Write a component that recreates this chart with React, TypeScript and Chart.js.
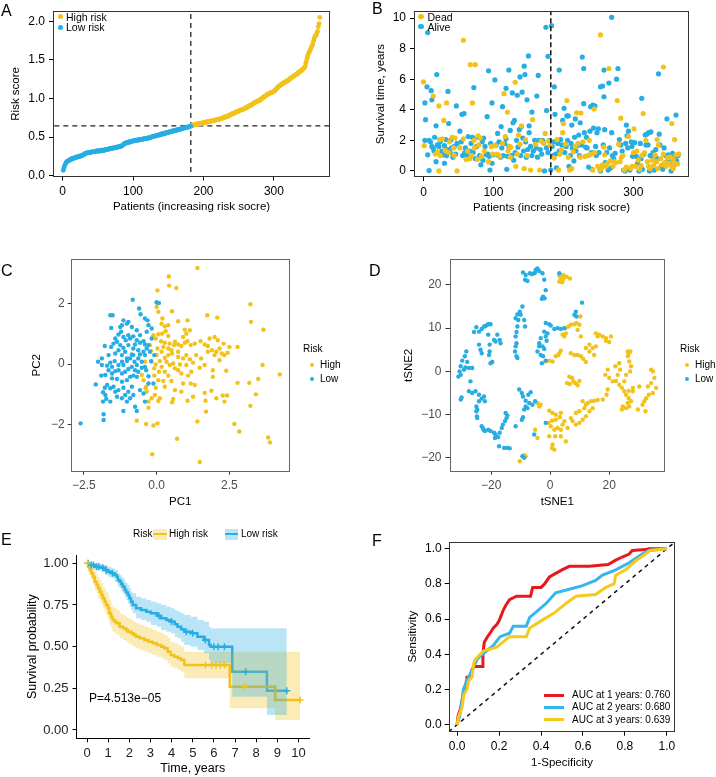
import React, { useEffect, useRef } from 'react';
import { Chart, registerables } from 'chart.js';
Chart.register(...registerables);

const FONT = "'Liberation Sans', Arial, Helvetica, sans-serif";
Chart.defaults.font.family = FONT;
Chart.defaults.color = '#000';

const YELLOW = '#F2C21B';
const BLUE = '#27ADE3';
const YELLOW_BAND = 'rgba(242,194,27,0.32)';
const BLUE_BAND = 'rgba(39,173,227,0.32)';
const RED = '#E8191C';
const ROC_BLUE = '#35B6EE';
const ROC_YELLOW = '#F7C81E';

// ---------- Panel A: sorted risk score ----------
const riskLow = [
  0.07,0.10,0.13,0.15,0.17,0.18,0.19,0.19,0.20,0.20,
  0.21,0.21,0.22,0.22,0.22,0.23,0.23,0.23,0.24,0.24,
  0.24,0.25,0.25,0.25,0.25,0.26,0.26,0.26,0.27,0.27,
  0.28,0.29,0.29,0.29,0.30,0.30,0.30,0.30,0.30,0.30,
  0.31,0.31,0.31,0.31,0.31,0.31,0.31,0.32,0.32,0.32,
  0.32,0.32,0.32,0.32,0.33,0.33,0.33,0.33,0.33,0.33,
  0.34,0.34,0.34,0.34,0.34,0.35,0.35,0.35,0.35,0.35,
  0.36,0.36,0.36,0.36,0.36,0.37,0.37,0.37,0.37,0.38,
  0.38,0.38,0.38,0.39,0.39,0.40,0.41,0.42,0.42,0.42,
  0.43,0.43,0.43,0.43,0.44,0.44,0.44,0.44,0.45,0.45,
  0.45,0.45,0.45,0.46,0.46,0.46,0.46,0.46,0.47,0.47,
  0.47,0.47,0.47,0.47,0.48,0.48,0.48,0.48,0.48,0.48,
  0.49,0.49,0.49,0.49,0.50,0.50,0.50,0.51,0.51,0.51,
  0.51,0.52,0.52,0.52,0.52,0.53,0.53,0.53,0.53,0.54,
  0.54,0.54,0.54,0.55,0.55,0.55,0.55,0.56,0.56,0.56,
  0.56,0.57,0.57,0.57,0.57,0.58,0.58,0.58,0.58,0.59,
  0.59,0.59,0.59,0.60,0.60,0.60,0.60,0.61,0.61,0.61,
  0.61,0.62,0.62,0.62,0.62,0.63,0.63,0.63,0.63,0.64,
  0.64,0.64,
];
const riskHigh = [
  0.65,0.65,0.65,0.66,0.66,0.66,0.66,0.67,
  0.67,0.67,0.67,0.67,0.68,0.68,0.68,0.68,0.68,0.69,
  0.69,0.69,0.69,0.69,0.70,0.70,0.70,0.70,0.70,0.71,
  0.71,0.71,0.71,0.71,0.72,0.72,0.72,0.72,0.73,0.73,
  0.73,0.73,0.73,0.74,0.74,0.74,0.75,0.75,0.75,0.76,
  0.76,0.76,0.77,0.77,0.77,0.78,0.78,0.79,0.79,0.80,
  0.80,0.81,0.81,0.81,0.82,0.82,0.83,0.83,0.83,0.84,
  0.84,0.85,0.85,0.85,0.86,0.86,0.86,0.87,0.87,0.88,
  0.88,0.89,0.89,0.90,0.90,0.91,0.91,0.92,0.92,0.93,
  0.94,0.94,0.95,0.95,0.96,0.96,0.97,0.97,0.97,0.98,
  0.99,0.99,1.00,1.01,1.01,1.02,1.03,1.03,1.04,1.05,
  1.05,1.06,1.06,1.07,1.07,1.08,1.08,1.08,1.09,1.09,
  1.10,1.11,1.12,1.13,1.14,1.15,1.16,1.16,1.17,1.18,
  1.19,1.19,1.20,1.20,1.21,1.21,1.22,1.22,1.23,1.23,
  1.24,1.25,1.26,1.26,1.27,1.28,1.28,1.29,1.30,1.30,
  1.31,1.31,1.32,1.33,1.33,1.34,1.35,1.36,1.36,1.37,
  1.38,1.39,1.40,1.41,1.45,1.48,1.52,1.55,1.58,1.60,
  1.62,1.64,1.66,1.68,1.70,1.74,1.77,1.80,1.81,1.82,
  1.85,1.87,1.93,1.97,2.05,
];
const riskCutoff = 0.645;
const patientCutoff = 182;
const patientTicks = [0, 100, 200, 300];
const riskTicks = [0, 0.5, 1.0, 1.5, 2.0];

// ---------- Panel B: survival time vs patient ----------
const aliveSurv: [number, number][] = [
  [2,4.45],[3,3.35],[6,9.05],[5,5.5],[11,5.25],[12,4.65],[18,2.95],[19,6.3],[2,2.0],[8,2.0],[6,1.05],[8,0.02],[12,1.6],[10,1.9],[15,1.3],[16,2.2],[18,0.6],[20,1.7],[22,1.6],[24,1.9],[14,1.5],
  [35,5.2],[47,4.25],[36,3.1],[26,1.3],[28,1.05],[30,1.65],[32,2.05],[34,1.4],[38,1.2],[40,1.5],[42,0.9],[44,1.6],[46,1.1],[48,1.8],[30,0.5],[39,2.0],[33,1.0],
  [52,2.6],[55,3.7],[58,3.75],[56,1.0],[54,1.9],[60,1.5],[62,1.0],[64,2.25],[66,1.3],[68,1.8],[70,2.2],[72,5.45],[71,1.2],[74,0.8],[59,1.2],[65,0.9],
  [91,3.55],[93,6.55],[98,4.45],[76,1.6],[78,2.2],[80,1.0],[82,0.4],[84,1.9],[86,2.15],[88,1.6],[90,1.05],[92,1.1],[94,0.95],[95,0.05],[96,1.8],[98,0.5],[100,1.05],[85,0.7],
  [102,5.95],[113,4.2],[118,5.4],[122,6.6],[111,2.9],[104,1.7],[106,2.45],[108,1.9],[110,0.9],[112,1.5],[114,1.0],[116,1.8],[118,2.1],[120,0.95],[122,1.6],[124,2.65],[107,1.0],[119,0.1],
  [127,5.1],[134,4.95],[138,6.15],[141,5.15],[144,6.85],[145,6.3],[148,4.65],[130,3.3],[128,3.15],[137,2.7],[140,2.9],[126,1.0],[129,0.7],[131,1.2],[133,2.0],[135,1.55],[139,1.0],[142,2.15],[143,1.3],[146,1.9],[147,0.9],[149,1.4],
  [150,7.52],[155,3.85],[151,2.95],[151,2.5],[162,4.9],[164,6.25],[153,1.6],[155,1.0],[157,1.3],[159,2.0],[161,1.5],[163,0.9],[165,2.0],[167,1.4],[169,1.1],[171,1.9],[173,0.0],[170,2.0],
  [175,9.4],[183,9.5],[178,7.5],[176,3.95],[187,5.5],[188,3.7],[194,6.6],[199,3.3],[176,1.5],[178,1.2],[180,2.0],[182,0.05],[184,1.6],[186,1.9],[189,1.1],[190,0.2],[192,1.8],[194,1.3],[196,2.05],[198,1.7],[185,1.0],
  [201,4.1],[205,3.6],[207,3.6],[212,3.0],[217,3.4],[224,3.15],[202,1.2],[204,1.6],[206,2.0],[208,0.3],[210,1.0],[211,1.8],[213,1.5],[215,0.65],[216,2.2],[218,1.3],[220,1.65],[222,2.35],[223,1.0],
  [227,7.45],[229,6.7],[229,4.4],[239,4.2],[242,4.3],[245,4.25],[230,2.5],[232,1.55],[234,1.5],[236,0.25],[238,2.6],[240,1.2],[241,0.1],[243,2.8],[246,1.6],[247,1.0],[248,2.5],[226,1.7],[233,2.2],
  [253,5.5],[256,5.55],[258,4.85],[258,6.6],[265,5.75],[269,10.05],[250,2.75],[259,2.7],[269,2.5],[251,1.2],[253,0.0],[255,0.3],[257,1.7],[260,0.55],[262,1.2],[264,0.05],[266,1.5],[268,0.2],[270,1.0],[272,0.8],[274,1.15],
  [276,6.0],[278,6.7],[290,3.0],[293,2.6],[282,1.7],[284,1.3],[286,0.05],[288,0.0],[289,1.8],[291,2.3],[292,1.5],[294,0.1],[295,0.05],[297,1.9],[298,1.6],[299,0.95],[280,2.05],
  [312,4.75],[319,2.4],[322,2.5],[302,1.85],[304,0.95],[306,0.5],[308,0.0],[310,1.8],[313,0.1],[315,1.1],[317,2.35],[318,1.7],[321,1.7],[323,0.0],[324,1.0],[311,0.8],
  [325,2.55],[337,2.4],[336,6.35],[348,3.4],[326,0.95],[328,1.2],[330,0.05],[332,1.4],[334,0.8],[338,1.7],[340,0.3],[342,0.1],[344,1.5],[346,1.0],[349,0.6],
  [361,3.65],[350,1.05],[352,0.6],[354,0.0],[356,1.15],[358,0.4],[360,0.9],[362,0.65],[364,1.0],
];
const deadSurv: [number, number][] = [
  [0,5.82],[14,4.9],[22,4.25],[1,1.65],[23,2.05],[22,0.0],[20,1.25],[17,1.1],[24,1.0],
  [33,4.45],[27,2.1],[29,3.3],[37,1.9],[41,2.2],[45,2.15],[44,1.0],[48,0.0],[43,1.5],[36,1.2],[31,1.35],
  [57,8.55],[67,6.95],[74,6.95],[70,4.45],[52,1.5],[57,2.1],[61,0.75],[63,1.3],[66,0.8],[69,1.0],[72,2.0],[73,1.5],
  [78,2.3],[81,2.15],[79,1.7],[83,0.95],[87,1.3],[93,0.6],[97,1.6],[99,1.1],[77,0.75],
  [115,5.05],[120,3.85],[105,1.1],[103,1.65],[109,0.95],[113,1.8],[117,2.25],[121,1.3],[123,1.6],[124,0.9],
  [131,5.8],[140,2.95],[125,1.55],[132,0.3],[136,2.35],[138,1.75],[144,0.15],[146,2.05],[148,1.0],[134,1.1],
  [156,3.35],[153,0.05],[160,1.75],[166,0.05],[168,1.95],[172,1.8],[174,2.45],
  [179,1.95],[181,1.7],[187,0.85],[193,0.05],[195,1.1],[197,1.4],[199,2.5],[191,2.05],
  [200,3.1],[205,4.6],[219,3.8],[203,1.75],[209,0.05],[212,0.15],[214,1.25],[217,1.6],[221,1.8],[224,0.9],[207,0.9],
  [225,3.78],[244,4.05],[228,1.9],[231,0.95],[235,1.0],[237,2.0],[240,1.1],[242,0.05],[245,1.2],[249,0.3],
  [253,8.9],[265,6.7],[252,0.05],[254,0.15],[256,0.4],[259,1.05],[261,0.3],[263,0.5],[267,0.65],[271,0.3],[273,0.6],[258,1.55],
  [277,4.6],[282,3.45],[275,0.55],[279,1.75],[281,0.6],[285,1.0],[287,0.05],[290,0.25],[293,2.25],[296,0.15],[298,0.3],[283,0.9],
  [314,3.75],[301,2.75],[303,0.3],[305,1.3],[307,0.7],[309,0.1],[311,0.35],[316,1.2],[320,0.6],[322,0.3],[324,0.15],[318,2.0],[312,1.0],[300,1.2],
  [343,6.8],[334,2.05],[327,0.7],[329,0.35],[331,1.05],[333,0.6],[335,0.15],[336,1.7],[339,0.8],[341,0.4],[343,1.1],[345,0.55],[347,0.3],[349,0.85],
  [355,3.1],[359,2.05],[351,0.5],[353,0.9],[355,0.3],[357,0.75],[359,0.5],[361,1.05],[363,0.45],[365,1.1],[357,0.15],
];
const survTicks = [0, 2, 4, 6, 8, 10];

// ---------- Panel C: PCA ----------
const pcaHigh: [number, number][] = [
  [1.40,3.18],[0.42,2.90],[0.43,2.60],[0.68,2.52],[0.03,2.44],[0.03,2.02],[0.00,1.89],[0.06,1.73],[0.53,1.75],[1.74,1.62],
  [2.08,1.54],[3.22,1.98],[3.24,1.40],[3.67,1.14],[1.06,1.45],[0.74,1.42],[0.17,1.34],[0.28,1.25],[0.97,1.14],[1.14,1.12],
  [1.99,0.90],[1.82,0.85],[2.10,0.79],[2.30,0.68],[2.50,0.57],[2.78,0.57],[3.64,-0.03],[4.23,-0.34],[3.49,-0.49],[3.18,-0.62],
  [2.78,-0.62],[2.39,-0.22],[1.93,-0.42],[3.41,-1.00],[3.22,-1.38],[2.42,-1.04],[2.27,-1.04],[2.33,-1.24],[2.05,-1.13],[1.88,-0.88],
  [1.65,-0.95],[1.68,-1.21],[1.70,-1.57],[1.40,-1.90],[1.06,-1.21],[1.25,-1.08],[0.57,-1.15],[0.53,-1.26],[0.06,-1.22],[0.11,-1.13],
  [-0.28,-1.24],[-0.38,-0.80],[-0.34,-0.91],[-0.03,-0.78],[-0.28,-1.44],[-0.36,-1.98],[-0.11,-2.03],[0.03,-1.96],[-0.68,-1.87],[0.70,-2.47],
  [-0.15,-2.98],[1.48,-3.24],[2.67,-1.98],[2.84,-2.23],[3.83,-2.43],[3.89,-2.59],
  [-0.11,0.96],[-0.03,0.85],[0.06,0.99],[0.19,1.01],[0.31,1.09],[0.40,0.93],[0.15,0.76],[0.28,0.71],[0.45,0.68],[0.60,0.63],
  [0.74,0.65],[0.85,0.60],[0.97,0.71],[1.06,0.76],[1.17,0.63],[1.31,0.68],[1.51,0.76],[1.65,0.65],[1.76,0.60],[1.90,0.46],
  [2.05,0.41],[2.16,0.52],[2.24,0.35],[2.44,0.38],[1.02,1.01],[0.91,0.90],[0.74,0.41],[0.53,0.35],[0.40,0.30],[0.28,0.21],
  [0.11,0.10],[-0.03,-0.01],[-0.08,-0.14],[0.08,-0.25],[0.28,-0.25],[0.45,-0.03],[0.63,-0.14],[0.80,-0.01],[0.91,0.19],[1.02,0.30],
  [1.14,0.16],[0.85,-0.31],[1.08,-0.38],[0.91,-0.64],[1.17,-0.64],[1.31,-0.69],[0.40,-0.38],[0.51,-0.56],[0.23,-0.56],[0.06,-0.53],
  [-0.08,-0.38],[-0.45,-0.53],[-0.51,-0.36],[-0.36,-0.75],[-0.17,0.08],[-0.40,0.08],[-0.19,0.44],[0.00,0.30],[0.57,0.02],[1.19,-0.25],
  [0.74,0.24],[0.17,0.41],[0.40,0.52],[0.63,0.74],[1.99,0.30],[2.33,0.30],[1.76,0.41],[1.53,0.19],[1.93,-0.20],[1.48,-0.12],
  [1.25,0.05],[-0.23,0.63],[0.03,0.52],[0.23,0.57],[0.51,0.46],[0.34,0.08],[0.17,-0.09],[0.74,-0.20],[1.02,-0.03],[1.36,0.30],
  [1.65,-0.03],[0.28,-0.75],[-0.06,-1.02],[-0.17,-1.13],[0.85,-0.91],[0.63,-0.86],[2.16,0.13],[0.40,1.29],[0.20,1.51],
];
const pcaLow: [number, number][] = [
  [-2.61,-1.96],[-1.82,-1.66],[-1.82,-1.85],[-2.09,-0.67],[-1.90,-0.38],[-1.84,-0.93],[-1.84,-1.24],[-1.78,-0.78],[-1.76,-1.02],[-1.73,-1.15],
  [-1.59,1.62],[-1.51,1.62],[-1.56,1.20],[-1.25,1.23],[-1.19,1.29],[-1.02,1.34],[-0.85,1.23],[-0.60,1.84],[-0.82,2.13],[-0.55,1.65],
  [-0.40,1.51],[-0.31,1.45],[0.00,2.05],[0.08,2.02],[-2.01,0.08],[-1.88,0.19],[-1.78,0.60],[-1.65,0.30],[-1.56,0.57],[-1.48,0.68],
  [-1.42,0.85],[-1.31,0.98],[-1.22,1.07],[-1.14,0.90],[-1.06,0.79],[-0.97,0.96],[-0.80,0.92],[-0.68,0.79],[-0.57,0.71],[-0.45,0.76],
  [-0.40,0.65],[-0.28,0.63],[-0.23,0.41],[-0.08,0.30],[-0.40,0.30],[-0.51,0.08],[-0.63,0.19],[-0.76,0.08],[-0.91,0.19],[-1.02,0.10],
  [-1.14,-0.03],[-1.31,-0.03],[-1.44,0.10],[-1.59,0.05],[-1.70,-0.05],[-1.65,-0.20],[-1.53,-0.31],[-1.42,-0.23],[-1.31,-0.20],[-1.19,-0.31],
  [-1.08,-0.25],[-0.97,-0.16],[-0.85,-0.09],[-0.74,-0.20],[-0.63,-0.25],[-0.51,-0.12],[-1.53,-0.47],[-1.36,-0.49],[-1.19,-0.58],[-1.02,-0.53],
  [-0.91,-0.42],[-0.80,-0.38],[-0.68,-0.42],[-1.70,-0.69],[-1.59,-0.80],[-1.48,-0.75],[-1.31,-0.86],[-1.14,-0.78],[-0.97,-0.91],[-0.85,-0.75],
  [-1.36,-1.08],[-1.19,-1.13],[-1.02,-1.24],[-0.91,-1.13],[-0.74,-1.41],[-0.68,-1.55],[-1.14,-1.55],[-0.57,-0.86],[-0.28,-0.40],[-0.36,-0.20],
  [-0.19,0.10],[-0.45,0.41],[-0.63,0.46],[-0.80,0.52],[-0.97,0.63],[-1.14,0.54],[-1.31,0.46],[-1.42,0.35],[-1.19,0.30],[-1.08,0.41],
  [-0.85,0.32],[-0.97,1.40],[-0.68,1.12],[-1.14,1.45],[-1.36,0.74],[-0.74,0.65],[-0.57,0.96],[-0.34,1.07],[-0.17,0.85],[-0.34,0.52],
  [-0.57,0.32],[-0.68,-0.03],[-0.40,-0.09],[-0.28,-0.64],[-0.45,-0.97],[-1.53,-0.09],[-1.76,-0.36],[-1.42,-0.91],[-1.59,-1.24],[-1.08,-1.02],
  [-0.80,-1.02],[-1.02,0.19],[-1.19,0.08],[-1.88,-0.03],[-0.91,0.85],[-1.25,0.63],[-0.80,0.30],[-0.40,-1.24],[-0.11,-0.64],[-0.17,1.18],
  [-0.28,1.29],
];

// ---------- Panel D: tSNE ----------
const tsneLow: [number, number][] = [
  [-9.2,22.9],[-8.3,22.3],[-8.5,21.2],[-7.7,20.9],[-6.2,22.5],[-5.4,22.7],[-4.9,23.5],[-4.3,23.8],[-3.7,23.2],[-2.6,22.7],
  [-2.0,21.2],[-1.5,18.8],[-2.4,17.3],[-2.8,16.8],[-1.9,16.9],[-5.1,22.9],[-6.9,22.7],[3.1,22.7],
  [-25.8,9.1],[-25.0,10.2],[-24.1,9.2],[-23.2,9.8],[-22.4,10.4],[-21.9,10.5],[-21.3,10.8],[-20.7,11.0],[-20.2,10.9],[-21.0,8.5],
  [-24.1,6.2],[-23.2,4.2],[-20.5,6.2],[-20.7,3.8],[-20.2,1.9],[-19.6,2.2],[-17.9,8.5],[-17.1,7.3],[-16.8,6.5],[-18.5,6.9],
  [-19.0,7.3],[-23.6,5.0],[-20.5,4.6],
  [-28.4,4.6],[-28.9,3.5],[-29.8,2.5],[-30.3,1.2],[-30.7,0.0],[-31.1,-1.2],[-30.3,-0.8],[-29.2,0.4],[-28.7,0.9],[-27.5,0.8],
  [-26.4,0.8],[-27.0,-2.3],[-27.5,-4.6],[-26.4,-5.0],[-30.0,-6.0],[-30.3,-6.5],[-28.1,2.2],
  [-25.3,-4.6],[-24.1,-5.4],[-23.2,-6.3],[-22.4,-5.8],[-22.1,-6.9],[-24.1,-6.9],[-25.0,-8.1],[-25.0,-9.2],[-24.8,-10.4],[-24.7,-10.8],
  [-23.2,-12.7],[-22.8,-13.1],[-22.1,-13.8],[-21.0,-13.5],[-20.2,-13.8],[-19.0,-14.2],[-18.5,-14.6],[-17.6,-15.2],[-17.1,-14.2],[-16.4,-13.1],
  [-16.0,-12.3],[-15.3,-11.5],[-14.8,-10.8],[-14.5,-10.2],[-15.1,-9.6],[-17.3,-17.3],[-15.6,-17.7],[-14.5,-17.7],[-13.7,-17.8],[-11.7,-12.7],
  [-9.4,-19.6],[-8.8,-20.0],[-24.7,-8.8],[-22.6,-13.5],[-18.7,-15.4],
  [-11.7,12.3],[-11.1,13.2],[-10.3,13.8],[-9.4,15.0],[-11.1,10.4],[-11.4,9.1],[-11.7,8.1],[-11.4,6.5],[-11.7,5.8],[-11.9,4.6],
  [-11.4,3.5],[-11.1,3.1],[-10.0,13.1],[-8.8,11.9],[-8.5,10.4],[-10.8,11.9],
  [-1.5,11.2],[-0.3,10.9],[0.2,10.6],[-2.0,9.2],[-0.9,8.8],[-1.5,8.1],[-3.7,6.5],[-2.6,5.8],[-2.0,5.2],[-3.7,5.8],
  [-4.3,4.6],[-3.2,3.8],[-2.4,3.5],[-1.5,2.5],[-2.8,1.9],[1.4,9.8],[2.5,10.0],[3.6,9.8],[4.8,10.0],[-1.2,7.1],[-3.2,7.7],
  [10.8,15.9],[8.7,13.8],[8.2,13.1],[8.9,12.7],
  [-10.5,-4.2],[-9.6,-5.0],[-9.2,-5.8],[-8.3,-6.8],[-7.4,-5.4],[-6.6,-4.8],[-7.1,-7.3],[-8.3,-8.1],[-8.8,-8.8],[-9.2,-10.6],
  [-9.6,-11.2],[-5.1,-6.9],[-6.0,-7.7],[-1.5,-11.9],[-5.4,-14.6],[-7.7,-8.5],
];
const tsneHigh: [number, number][] = [
  [3.1,22.2],[3.6,21.4],[4.2,20.9],[3.6,21.9],[4.8,21.7],[5.5,21.9],[6.7,21.5],[3.1,20.8],[4.0,20.6],[4.4,22.3],
  [5.1,10.0],[6.2,10.4],[7.0,10.8],[8.2,10.9],[8.9,11.2],[9.9,10.8],[10.2,12.7],[9.3,9.6],[10.4,8.1],[4.2,8.5],[4.8,8.1],[5.3,8.8],
  [15.5,8.8],[16.6,8.5],[17.8,8.1],[18.9,7.7],[20.6,8.1],[20.0,6.8],[18.9,7.1],[16.1,8.1],
  [7.0,4.2],[8.2,3.8],[9.3,3.8],[10.4,3.5],[11.2,2.9],[12.1,2.2],[13.3,4.6],[14.4,5.4],[15.5,5.8],[14.9,3.8],[13.3,6.2],[12.1,5.4],
  [-1.5,2.3],[-0.3,2.5],[0.8,2.3],[1.9,3.5],[3.1,4.2],[3.6,4.8],[2.8,3.8],
  [6.5,-1.2],[7.4,-1.5],[7.9,-2.3],[8.5,-2.7],[9.3,-3.2],[9.9,-2.2],[6.7,-2.9],[5.7,-2.7],
  [26.3,4.6],[27.2,4.6],[26.6,4.0],[26.3,3.5],[26.8,2.3],[27.4,1.2],[27.1,0.0],[25.7,-0.8],[23.4,1.9],[22.1,1.2],
  [19.5,0.4],[18.7,-0.8],[20.0,-1.5],[21.2,-2.3],[22.3,-2.2],[23.4,-3.1],[24.3,-3.8],[25.1,-4.6],[25.7,-5.4],[26.6,-6.2],
  [27.4,-6.9],[26.3,-7.3],[24.6,-8.1],[25.7,-8.5],[24.3,-8.8],[26.8,-8.1],[29.7,-8.8],[32.3,-9.2],[28.0,-3.8],[26.6,-4.5],
  [28.0,-4.6],[34.2,0.4],[34.8,0.0],[35.3,-1.5],[34.2,-2.7],[35.9,-3.8],[34.8,-5.0],[33.4,-5.4],[32.5,-6.2],[31.9,-6.9],
  [33.1,-3.5],[30.2,-3.5],[19.5,-4.2],[19.1,-5.4],[23.7,0.4],[22.9,-0.8],[25.1,-2.3],[31.3,-7.7],
  [-4.3,-7.3],[-3.2,-7.7],[-0.3,-9.1],[0.8,-9.6],[1.9,-10.0],[3.6,-9.6],[3.3,-10.6],[1.9,-11.2],[0.6,-11.4],[-0.6,-11.9],
  [0.2,-12.7],[1.4,-13.5],[2.5,-13.1],[3.6,-13.5],[1.7,-15.0],[3.6,-15.0],[5.3,-16.2],[-0.3,-15.0],[0.8,-16.9],[0.6,-17.7],
  [1.4,-18.1],[-5.1,-13.5],[-4.3,-15.4],[7.6,-11.5],[8.7,-12.3],[9.9,-11.9],[11.0,-11.2],[12.1,-10.4],[13.3,-9.2],[14.4,-8.5],
  [11.6,-8.5],[12.1,-7.7],[12.7,-7.3],[13.8,-6.9],[14.9,-6.8],[16.1,-6.6],[17.8,-6.5],[11.0,-6.9],[9.9,-9.2],[8.7,-9.6],
  [7.0,-10.8],[-3.7,-8.1],[-8.8,-19.4],[-8.3,-19.6],[-10.3,-20.8],[4.8,-11.5],[5.9,-13.1],[4.2,-12.3],
];

// ---------- Panel E: Kaplan-Meier ----------
const kmHighTime = [0,0.05,0.12,0.2,0.28,0.36,0.45,0.52,0.6,0.68,0.75,0.83,0.9,0.99,1.05,1.14,1.2,1.3,1.4,1.54,1.7,1.85,1.93,2.1,2.2,2.32,2.5,2.71,2.9,3.1,3.3,3.5,3.65,3.81,3.95,4.12,4.3,4.44,4.6,6.75,8.9,10.08];
const kmHighSurv = [1.0,0.98,0.96,0.94,0.92,0.89,0.87,0.85,0.83,0.81,0.79,0.77,0.75,0.73,0.70,0.68,0.66,0.65,0.64,0.62,0.61,0.60,0.59,0.58,0.57,0.56,0.55,0.54,0.53,0.52,0.51,0.50,0.49,0.47,0.45,0.44,0.43,0.42,0.39,0.26,0.18,0.18];
const kmHighUpper = [1.0,1.0,0.99,0.98,0.97,0.95,0.93,0.92,0.90,0.88,0.86,0.85,0.83,0.81,0.78,0.76,0.74,0.73,0.72,0.70,0.69,0.68,0.67,0.66,0.65,0.64,0.63,0.62,0.61,0.60,0.59,0.58,0.57,0.55,0.53,0.52,0.51,0.50,0.47,0.47,0.47,0.47];
const kmHighLower = [1.0,0.96,0.93,0.90,0.87,0.84,0.82,0.79,0.77,0.75,0.73,0.71,0.69,0.66,0.63,0.61,0.59,0.58,0.57,0.55,0.54,0.53,0.52,0.51,0.50,0.49,0.48,0.47,0.46,0.45,0.44,0.43,0.42,0.40,0.38,0.37,0.36,0.35,0.31,0.13,0.06,0.06];
const kmLowTime = [0,0.15,0.36,0.67,0.85,0.99,1.15,1.3,1.4,1.46,1.55,1.62,1.69,1.78,1.85,1.93,2.0,2.08,2.16,2.32,2.55,2.8,3.02,3.3,3.5,3.75,3.97,4.15,4.28,4.45,4.6,4.9,5.22,5.53,5.77,5.85,6.87,8.51,9.45];
const kmLowSurv = [1.0,0.99,0.98,0.974,0.96,0.95,0.94,0.93,0.92,0.90,0.89,0.875,0.86,0.84,0.825,0.81,0.79,0.77,0.75,0.73,0.72,0.71,0.70,0.685,0.67,0.66,0.65,0.635,0.62,0.605,0.59,0.58,0.56,0.54,0.51,0.50,0.35,0.236,0.236];
const kmLowUpper = [1.0,1.0,1.0,0.99,0.99,0.98,0.97,0.96,0.96,0.94,0.93,0.92,0.91,0.89,0.88,0.87,0.85,0.83,0.82,0.80,0.79,0.78,0.77,0.76,0.75,0.74,0.73,0.72,0.71,0.70,0.69,0.68,0.66,0.65,0.62,0.61,0.61,0.61,0.61];
const kmLowLower = [1.0,0.98,0.96,0.95,0.93,0.92,0.91,0.89,0.88,0.86,0.85,0.83,0.82,0.80,0.78,0.76,0.74,0.72,0.70,0.67,0.66,0.65,0.63,0.62,0.60,0.59,0.58,0.56,0.55,0.53,0.51,0.50,0.48,0.46,0.42,0.40,0.20,0.09,0.09];
const censorHigh: [number, number][] = [[0.02,1.0],[5.6,0.39],[5.9,0.39],[6.1,0.39],[6.3,0.39],[6.5,0.39],[7.45,0.26],[10.08,0.18]];
const censorLow: [number, number][] = [[0.05,1.0],[0.2,0.99],[0.3,0.99],[0.45,0.98],[0.55,0.98],[0.75,0.974],[0.9,0.96],[1.2,0.94],[3.4,0.685],[4.0,0.65],[4.7,0.59],[5.0,0.58],[5.6,0.54],[6.0,0.50],[6.2,0.50],[6.5,0.50],[7.5,0.35],[9.45,0.236]];
const timeTicks = [0,1,2,3,4,5,6,7,8,9,10];
const probTicks = [0, 0.25, 0.5, 0.75, 1.0];
const pValueText = 'P=4.513e\u221205';

// ---------- Panel F: ROC ----------
const roc1Fpr = [0,0.005,0.016,0.024,0.03,0.04,0.044,0.047,0.063,0.07,0.08,0.12,0.123,0.13,0.145,0.157,0.173,0.19,0.20,0.21,0.22,0.233,0.25,0.283,0.35,0.36,0.40,0.417,0.44,0.47,0.50,0.535,0.63,0.72,0.756,0.787,0.82,0.835,0.9,0.913,1];
const roc1Tpr = [0,0.05,0.09,0.14,0.18,0.20,0.245,0.27,0.27,0.31,0.33,0.33,0.41,0.47,0.50,0.52,0.55,0.57,0.59,0.62,0.65,0.68,0.71,0.73,0.73,0.78,0.78,0.80,0.84,0.86,0.88,0.90,0.90,0.91,0.935,0.953,0.97,0.99,0.995,1,1];
const roc2Fpr = [0,0.01,0.016,0.024,0.03,0.047,0.063,0.079,0.095,0.11,0.142,0.173,0.205,0.25,0.268,0.33,0.346,0.386,0.425,0.47,0.535,0.598,0.66,0.693,0.756,0.82,0.882,0.913,1];
const roc2Tpr = [0,0.04,0.07,0.14,0.20,0.25,0.29,0.33,0.37,0.39,0.42,0.45,0.50,0.52,0.56,0.56,0.61,0.65,0.69,0.75,0.77,0.79,0.82,0.85,0.88,0.92,0.97,0.99,1];
const roc3Fpr = [0,0.008,0.024,0.032,0.047,0.055,0.071,0.079,0.087,0.102,0.126,0.189,0.25,0.33,0.346,0.40,0.457,0.52,0.567,0.66,0.709,0.748,0.756,0.803,0.85,0.898,0.92,1];
const roc3Tpr = [0,0.05,0.10,0.17,0.20,0.25,0.27,0.35,0.37,0.39,0.42,0.44,0.50,0.50,0.55,0.59,0.63,0.69,0.73,0.74,0.78,0.80,0.85,0.88,0.93,0.97,0.99,1];
const rocLabels = ['AUC at 1 years: 0.760', 'AUC at 2 years: 0.680', 'AUC at 3 years: 0.639'];
const unitTicks = [0, 0.2, 0.4, 0.6, 0.8, 1.0];

// ---------- helpers ----------
const pairs = (arr: [number, number][]) => arr.map(([x, y]) => ({ x, y }));
const zip = (xs: number[], ys: number[]) => xs.map((x, i) => ({ x, y: ys[i] }));
const minus = (s: string) => s.replace('-', '\u2212');

const boxPlugin = {
  id: 'box',
  afterDatasetsDraw(chart: any, _args: any, opts: any) {
    if (!opts || !opts.color) return;
    const { ctx, chartArea: a } = chart;
    ctx.save();
    ctx.strokeStyle = opts.color;
    ctx.lineWidth = 1;
    const l = Math.round(a.left) + 0.5, t = Math.round(a.top) + 0.5;
    const r = Math.round(a.right) - 0.5, b = Math.round(a.bottom) - 0.5;
    ctx.strokeRect(l, t, r - l, b - t);
    ctx.restore();
  },
};

function axis(o: any) {
  return {
    type: 'linear',
    min: o.min,
    max: o.max,
    afterBuildTicks: (s: any) => { s.ticks = o.ticks.map((v: number) => ({ value: v })); },
    afterFit: (s: any) => { if (s.isHorizontal()) s.height = o.size; else s.width = o.size; },
    grid: { display: true, drawOnChartArea: false, drawTicks: true, tickLength: o.tickLen ?? 4, color: o.tickColor ?? '#000', lineWidth: 1 },
    border: { display: !!o.border, color: '#000', width: 1 },
    ticks: { autoSkip: false, maxRotation: 0, padding: o.pad ?? 4, color: o.labelColor ?? '#000', font: { size: o.font ?? 12 }, callback: o.fmt },
    title: { display: true, text: o.title, color: '#000', font: { size: o.titleFont ?? 11.5 }, padding: { top: o.tp ?? 0, bottom: o.tp ?? 0 } },
  };
}

function baseOptions(pad: any, x: any, y: any, box: string | null) {
  return {
    responsive: false,
    animation: false,
    events: [],
    layout: { padding: pad },
    plugins: { legend: { display: false }, tooltip: { enabled: false }, box: { color: box } },
    scales: { x, y },
  };
}

function Panel({ left, top, width, height, build }: any) {
  const ref = useRef<HTMLCanvasElement>(null);
  useEffect(() => {
    const chart = new Chart(ref.current as HTMLCanvasElement, build());
    return () => chart.destroy();
  }, []);
  return <canvas ref={ref} width={width} height={height} style={{ position: 'absolute', left, top, width, height }} />;
}

const T = ({ x, y, size = 11, children, color = '#000' }: any) => (
  <div style={{ position: 'absolute', left: x, top: y, transform: 'translateY(-50%)', fontSize: size, fontFamily: FONT, lineHeight: 1, whiteSpace: 'nowrap', color }}>{children}</div>
);
const Dot = ({ x, y, r, color }: any) => (
  <div style={{ position: 'absolute', left: x - r, top: y - r, width: r * 2, height: r * 2, borderRadius: '50%', background: color }} />
);
const LineKey = ({ x, y, w, color, h = 3 }: any) => (
  <div style={{ position: 'absolute', left: x, top: y - h / 2, width: w, height: h, background: color }} />
);

// ---------- chart builders ----------
const buildA = () => ({
  type: 'scatter',
  plugins: [boxPlugin],
  data: {
    datasets: [
      { data: [{ x: patientCutoff, y: -1 }, { x: patientCutoff, y: 3 }], showLine: true, borderColor: '#222', borderWidth: 1.3, borderDash: [5, 4], pointRadius: 0, order: 3 },
      { data: [{ x: -50, y: riskCutoff }, { x: 450, y: riskCutoff }], showLine: true, borderColor: '#222', borderWidth: 1.3, borderDash: [5, 4], pointRadius: 0, order: 3 },
      { data: riskLow.map((v, i) => ({ x: i + 1, y: v })), backgroundColor: BLUE, pointRadius: 2.4, pointBorderWidth: 0, order: 1 },
      { data: riskHigh.map((v, i) => ({ x: riskLow.length + 1 + i, y: v })), backgroundColor: YELLOW, pointRadius: 2.4, pointBorderWidth: 0, order: 1 },
    ],
  },
  options: baseOptions(
    { top: 8, right: 26, left: 0, bottom: 0 },
    axis({ min: -13.56, max: 379.56, ticks: patientTicks, size: 38.5, pad: 4, title: 'Patients (increasing risk socre)', tp: 1.2, fmt: (v: number) => String(v) }),
    axis({ min: -0.01, max: 2.13, ticks: riskTicks, size: 53, pad: 4, title: 'Risk score', tp: 9.2, fmt: (v: number) => v.toFixed(1) }),
    '#333'
  ),
});

const buildB = () => ({
  type: 'scatter',
  plugins: [boxPlugin],
  data: {
    datasets: [
      { data: [{ x: patientCutoff, y: -5 }, { x: patientCutoff, y: 20 }], showLine: true, borderColor: '#111', borderWidth: 1.5, borderDash: [5, 3], pointRadius: 0, order: 0 },
      { data: pairs(aliveSurv), backgroundColor: BLUE, pointRadius: 2.6, pointBorderWidth: 0, order: 2 },
      { data: pairs(deadSurv), backgroundColor: YELLOW, pointRadius: 2.6, pointBorderWidth: 0, order: 1 },
    ],
  },
  options: baseOptions(
    { top: 7.5, right: 27, left: 0, bottom: 0 },
    axis({ min: -13.56, max: 379.56, ticks: patientTicks, size: 38, pad: 4, title: 'Patients (increasing risk socre)', tp: 0.4, fmt: (v: number) => String(v) }),
    axis({ min: -0.40, max: 10.45, ticks: survTicks, size: 58, pad: 4, title: 'Survival time, years', tp: 18.2, fmt: (v: number) => String(v) }),
    '#333'
  ),
});

const ggTickColor = '#333';
const ggLabelColor = '#4D4D4D';

const buildC = () => ({
  type: 'scatter',
  plugins: [boxPlugin],
  data: {
    datasets: [
      { data: pairs(pcaLow), backgroundColor: BLUE, pointRadius: 2.2, pointBorderWidth: 0 },
      { data: pairs(pcaHigh), backgroundColor: YELLOW, pointRadius: 2.2, pointBorderWidth: 0 },
    ],
  },
  options: baseOptions(
    { top: 44, right: 66.3, left: 0, bottom: 0 },
    axis({ min: -2.95, max: 4.57, ticks: [-2.5, 0, 2.5], size: 38.3, tickLen: 3, pad: 4, tickColor: ggTickColor, labelColor: ggLabelColor, title: 'PC1', tp: 1.2, fmt: (v: number) => minus(v.toFixed(1)) }),
    axis({ min: -3.56, max: 3.48, ticks: [-2, 0, 2], size: 70.7, tickLen: 3, pad: 3, tickColor: ggTickColor, labelColor: ggLabelColor, title: 'PC2', tp: 30.2, fmt: (v: number) => minus(String(v)) }),
    '#666'
  ),
});

const buildD = () => ({
  type: 'scatter',
  plugins: [boxPlugin],
  data: {
    datasets: [
      { data: pairs(tsneLow), backgroundColor: BLUE, pointRadius: 2.2, pointBorderWidth: 0 },
      { data: pairs(tsneHigh), backgroundColor: YELLOW, pointRadius: 2.2, pointBorderWidth: 0 },
    ],
  },
  options: baseOptions(
    { top: 44, right: 51, left: 0, bottom: 0 },
    axis({ min: -34.1, max: 38.9, ticks: [-20, 0, 20], size: 38.3, tickLen: 3, pad: 4, tickColor: ggTickColor, labelColor: ggLabelColor, title: 'tSNE1', tp: 1.2, fmt: (v: number) => minus(String(v)) }),
    axis({ min: -23.2, max: 26.0, ticks: [-20, -10, 0, 10, 20], size: 93.5, tickLen: 4, pad: 4, tickColor: ggTickColor, labelColor: ggLabelColor, title: 'tSNE2', tp: 46.2, fmt: (v: number) => minus(String(v)) }),
    '#666'
  ),
});

const stepLine = (data: any, color: string, order: number) => ({ data, stepped: true, borderColor: color, borderWidth: 2.5, pointRadius: 0, fill: false, order });
const band = (data: any, color: string, order: number, fill: any) => ({ data, stepped: true, borderWidth: 0, borderColor: 'rgba(0,0,0,0)', pointRadius: 0, backgroundColor: color, fill, order });

const buildE = () => ({
  type: 'line',
  data: {
    datasets: [
      stepLine(zip(kmHighTime, kmHighSurv), YELLOW, 4),
      stepLine(zip(kmLowTime, kmLowSurv), BLUE, 4),
      band(zip(kmHighTime, kmHighUpper), YELLOW_BAND, 3, '+1'),
      band(zip(kmHighTime, kmHighLower), YELLOW_BAND, 3, false),
      band(zip(kmLowTime, kmLowUpper), BLUE_BAND, 2, '+1'),
      band(zip(kmLowTime, kmLowLower), BLUE_BAND, 2, false),
      { data: pairs(censorHigh), showLine: false, pointStyle: 'cross', pointRadius: 3.5, borderColor: YELLOW, borderWidth: 1.5, order: 1 },
      { data: pairs(censorLow), showLine: false, pointStyle: 'cross', pointRadius: 3.5, borderColor: BLUE, borderWidth: 1.5, order: 1 },
    ],
  },
  options: {
    ...baseOptions(
      { top: 45, right: 47, left: 0, bottom: 0 },
      axis({ min: -0.5, max: 10.5, ticks: timeTicks, size: 38.7, tickLen: 4, pad: 3.5, border: true, font: 13, labelColor: '#222', title: 'Time, years', titleFont: 12.5, tp: 1.2, fmt: (v: number) => String(v) }),
      axis({ min: -0.05, max: 1.05, ticks: probTicks, size: 76.5, tickLen: 4, pad: 4, border: true, font: 13, labelColor: '#222', title: 'Survival probability', titleFont: 12.5, tp: 25.5, fmt: (v: number) => v.toFixed(2) }),
      null
    ),
  },
});

const rocLine = (data: any, color: string) => ({ data, borderColor: color, borderWidth: 3, pointRadius: 0, fill: false, tension: 0, borderJoinStyle: 'miter' });

const buildF = () => ({
  type: 'line',
  plugins: [boxPlugin],
  data: {
    datasets: [
      rocLine(zip(roc3Fpr, roc3Tpr), ROC_YELLOW),
      rocLine(zip(roc2Fpr, roc2Tpr), ROC_BLUE),
      rocLine(zip(roc1Fpr, roc1Tpr), RED),
      { data: [{ x: -0.04, y: -0.04 }, { x: 1.04, y: 1.04 }], borderColor: '#111', borderWidth: 1.5, borderDash: [4, 4], pointRadius: 0, fill: false },
    ],
  },
  options: baseOptions(
    { top: 31.7, right: 40.7, left: 0, bottom: 0 },
    axis({ min: -0.04, max: 1.04, ticks: unitTicks, size: 45.3, pad: 3.5, title: '1-Specificity', tp: 6.9, fmt: (v: number) => v.toFixed(1) }),
    axis({ min: -0.04, max: 1.04, ticks: unitTicks, size: 92.7, pad: 3, title: 'Sensitivity', tp: 49.9, fmt: (v: number) => v.toFixed(1) }),
    '#333'
  ),
});

export default function App() {
  return (
    <div style={{ position: 'absolute', left: 0, top: 0, width: 716, height: 777, background: '#fff', overflow: 'hidden', fontFamily: FONT }}>
      <Panel left={0} top={0} width={356} height={215} build={buildA} />
      <Panel left={356} top={0} width={360} height={215} build={buildB} />
      <Panel left={0} top={215} width={356} height={295} build={buildC} />
      <Panel left={356} top={215} width={360} height={295} build={buildD} />
      <Panel left={0} top={510} width={356} height={267} build={buildE} />
      <Panel left={356} top={510} width={360} height={267} build={buildF} />

      {/* panel letters */}
      <T x={1} y={11} size={16}>A</T>
      <T x={372} y={8.5} size={16}>B</T>
      <T x={1} y={271} size={16}>C</T>
      <T x={369} y={271} size={16}>D</T>
      <T x={1} y={540} size={16}>E</T>
      <T x={372} y={541} size={16}>F</T>

      {/* A legend */}
      <Dot x={60} y={16.5} r={2.5} color={YELLOW} />
      <T x={66} y={16.5} size={10.5}>High risk</T>
      <Dot x={60} y={27.3} r={2.5} color={BLUE} />
      <T x={66} y={27.3} size={10.5}>Low risk</T>

      {/* B legend */}
      <Dot x={421} y={16.8} r={2.6} color={YELLOW} />
      <T x={427.5} y={16.8} size={10.5}>Dead</T>
      <Dot x={421} y={26.8} r={2.6} color={BLUE} />
      <T x={427.5} y={26.8} size={10.5}>Alive</T>

      {/* C legend */}
      <T x={303} y={348.5} size={10}>Risk</T>
      <Dot x={312} y={365} r={2.2} color={YELLOW} />
      <T x={320} y={365} size={10}>High</T>
      <Dot x={312} y={379} r={2.2} color={BLUE} />
      <T x={320} y={379} size={10}>Low</T>

      {/* D legend */}
      <T x={680} y={348.5} size={10}>Risk</T>
      <Dot x={687} y={365} r={2.2} color={YELLOW} />
      <T x={695} y={365} size={10}>High</T>
      <Dot x={687} y={379} r={2.2} color={BLUE} />
      <T x={695} y={379} size={10}>Low</T>

      {/* E legend */}
      <T x={133} y={534} size={10}>Risk</T>
      <div style={{ position: 'absolute', left: 153, top: 528.5, width: 14, height: 11, background: YELLOW_BAND }} />
      <LineKey x={153} y={534} w={14} color={YELLOW} h={2.5} />
      <T x={169} y={534} size={10}>High risk</T>
      <div style={{ position: 'absolute', left: 225, top: 528.5, width: 13, height: 11, background: BLUE_BAND }} />
      <LineKey x={225} y={534} w={13} color={BLUE} h={2.5} />
      <T x={241} y={534} size={10}>Low risk</T>
      <T x={89} y={698} size={12}>{pValueText}</T>

      {/* F legend */}
      <LineKey x={544} y={695} w={20} color={RED} />
      <T x={572} y={695} size={10}>{rocLabels[0]}</T>
      <LineKey x={544} y={707.3} w={20} color={ROC_BLUE} />
      <T x={572} y={707.3} size={10}>{rocLabels[1]}</T>
      <LineKey x={544} y={719.5} w={20} color={ROC_YELLOW} />
      <T x={572} y={719.5} size={10}>{rocLabels[2]}</T>
    </div>
  );
}
